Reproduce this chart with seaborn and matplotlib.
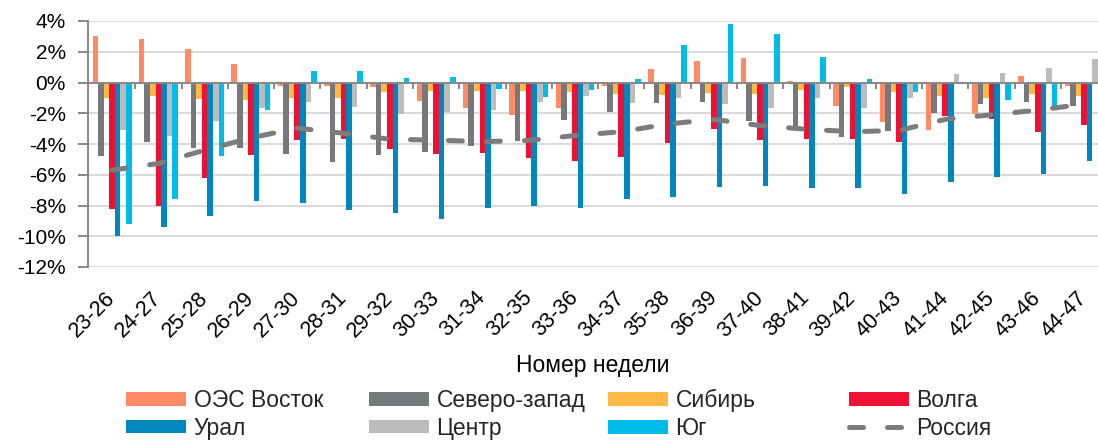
import numpy as np
import pandas as pd
import matplotlib
matplotlib.use("Agg")
import matplotlib.pyplot as plt
import seaborn as sns
from matplotlib.patches import Patch
from matplotlib.lines import Line2D
from matplotlib.ticker import FuncFormatter

sns.set_theme(style="white")
plt.rcParams['font.family'] = ['Liberation Sans', 'DejaVu Sans']
plt.rcParams['axes.unicode_minus'] = False

weeks = ["23-26", "24-27", "25-28", "26-29", "27-30", "28-31", "29-32", "30-33",
         "31-34", "32-35", "33-36", "34-37", "35-38", "36-39", "37-40", "38-41",
         "39-42", "40-43", "41-44", "42-45", "43-46", "44-47"]

regions = ["ОЭС Восток", "Северо-запад", "Сибирь", "Волга", "Урал", "Центр", "Юг"]

vostok = [3.0, 2.82, 2.19, 1.21, -0.26, -0.26, -0.3, -1.21, -1.67, -2.13, -1.67,
          -0.22, 0.91, 1.41, 1.58, 0.1, -1.56, -2.58, -3.08, -2.04, 0.43, -0.26]
sever = [-4.8, -3.86, -4.27, -4.23, -4.64, -5.16, -4.7, -4.49, -4.16, -3.8, -2.43,
         -1.95, -1.34, -1.24, -2.49, -3.08, -3.56, -3.17, -2.0, -1.39, -1.3, -1.5]
sibir = [-0.98, -0.85, -1.08, -1.13, -1.02, -1.0, -0.63, -0.54, -0.54, -0.54, -0.59,
         -0.76, -0.82, -0.69, -0.76, -0.48, -0.3, -0.65, -0.91, -0.98, -0.76, -0.91]
volga = [-8.2, -8.0, -6.2, -4.7, -3.77, -3.69, -4.3, -4.64, -4.6, -4.88, -5.08,
         -4.82, -3.95, -3.04, -3.77, -3.69, -3.67, -3.9, -2.15, -2.39, -3.23, -2.75]
ural = [-10.0, -9.4, -8.7, -7.7, -7.85, -8.29, -8.46, -8.9, -8.16, -8.03, -8.16,
        -7.6, -7.42, -6.77, -6.72, -6.83, -6.88, -7.22, -6.44, -6.12, -5.97, -5.08]
centr = [-3.08, -3.5, -2.5, -1.67, -1.24, -1.58, -2.06, -1.93, -1.82, -1.24, -0.85,
         -1.34, -0.98, -1.39, -1.67, -1.02, -1.63, -0.98, 0.54, 0.65, 0.93, 1.56]
yug = [-9.2, -7.6, -4.77, -1.82, 0.72, 0.76, 0.28, 0.35, -0.43, -0.95, -0.52,
       0.24, 2.45, 3.82, 3.15, 1.67, 0.26, -0.59, -0.13, -1.13, -1.78, -0.5]
russia = [-5.7, -5.27, -4.4, -3.6, -2.97, -3.3, -3.69, -3.75, -3.84, -3.77, -3.45,
          -3.2, -2.7, -2.4, -2.8, -3.04, -3.2, -3.12, -2.4, -2.1, -1.8, -1.4]

colors = ["#FF8A66", "#77787B", "#FDB846", "#EE1133", "#0087BD", "#BCBCBC", "#00BCE8"]
russia_color = "#7C7C7C"
axis_gray = "#888888"

series = [vostok, sever, sibir, volga, ural, centr, yug]
df = pd.DataFrame({
    "week": np.tile(weeks, len(regions)),
    "region": np.repeat(regions, len(weeks)),
    "value": np.concatenate([np.array(s) for s in series]),
})

W, H = 1098, 441
fig = plt.figure(figsize=(W / 100, H / 100), dpi=100)
ax = fig.add_axes([88 / W, 1 - 267 / H, 1 - 88 / W, (267 - 21) / H])

sns.barplot(data=df, x="week", y="value", hue="region", order=weeks,
            hue_order=regions, palette=colors, width=0.84, saturation=1,
            linewidth=0, legend=False, ax=ax, zorder=2)

n = len(weeks)
xpos = np.arange(n)
ln, = ax.plot(xpos, russia, color=russia_color, lw=3.6, zorder=4)
ln.set_dashes([2.8, 4.8])
ln.set_dash_capstyle("round")

ax.set_xlim(-0.52, n - 1 + 0.30)
ax.set_ylim(-12, 4)
ax.set_yticks(np.arange(-12, 5, 2))
ax.yaxis.set_major_formatter(FuncFormatter(lambda v, p: f"{v:.0f}%"))
ax.yaxis.grid(True, color="#D9D9D9", lw=1.4)
ax.xaxis.grid(False)
ax.set_axisbelow(True)

ax.axhline(0, color=axis_gray, lw=1.4, zorder=3)
ax.vlines(np.arange(n) + 0.5, -0.45, 0, color=axis_gray, lw=1.4, zorder=3)

for s in ["top", "right", "bottom"]:
    ax.spines[s].set_visible(False)
ax.spines["left"].set_color(axis_gray)
ax.spines["left"].set_linewidth(1.4)

ax.tick_params(axis="y", length=7, width=1.4, color=axis_gray, labelsize=15,
               pad=9, left=True, labelcolor="black")
ax.tick_params(axis="x", length=0, labelsize=15.5, pad=20, labelcolor="black")
ax.set_xticks(xpos)
ax.set_xticklabels(weeks, rotation=45, ha="right", va="center",
                   rotation_mode="anchor")
ax.set_xlabel("")
ax.set_ylabel("")

fig.text(593 / W, 1 - 372 / H, "Номер недели", ha="center", va="baseline",
         fontsize=16.5, color="black")

handles = [Patch(facecolor=c, edgecolor="none", label=r) for c, r in zip(colors, regions)]
handles.append(Line2D([], [], color=russia_color, lw=3.6, dashes=[2.8, 4.8],
                      dash_capstyle="round", label="Россия"))
columns = [[handles[0], handles[4]], [handles[1], handles[5]],
           [handles[2], handles[6]], [handles[3], handles[7]]]
col_x = [126, 369, 608, 849]
for hs, x in zip(columns, col_x):
    fig.legend(handles=hs, loc="upper left", bbox_to_anchor=(x / W, 1 - 389 / H),
               frameon=False, fontsize=16.5, handlelength=2.6, handleheight=0.55,
               handletextpad=0.35, labelspacing=0.2, borderpad=0,
               borderaxespad=0)

fig.savefig("out.png", dpi=100)
